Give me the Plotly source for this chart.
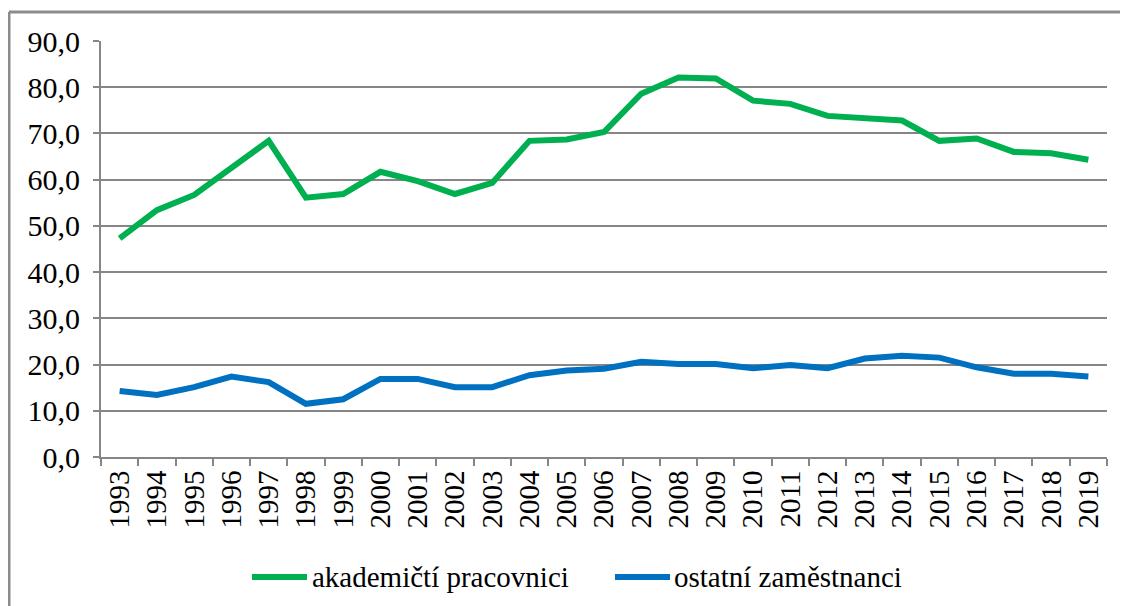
import plotly.graph_objects as go

years = [str(y) for y in range(1993, 2020)]
akademicti = [47.3, 53.4, 56.7, 62.5, 68.4, 56.1, 56.9, 61.7, 59.7, 56.9, 59.3, 68.4,
              68.7, 70.3, 78.6, 82.1, 81.9, 77.1, 76.4, 73.8, 73.3, 72.8, 68.4, 68.9,
              66.0, 65.7, 64.3]
ostatni = [14.3, 13.4, 15.1, 17.4, 16.2, 11.5, 12.5, 16.9, 16.9, 15.1, 15.1, 17.7,
           18.7, 19.1, 20.6, 20.1, 20.1, 19.2, 19.9, 19.2, 21.3, 21.9, 21.5, 19.4,
           18.0, 18.0, 17.4]
series_names = ["akademičtí pracovnici", "ostatní zaměstnanci"]
colors = ["#00B050", "#0070C0"]
y_ticks = [0, 10, 20, 30, 40, 50, 60, 70, 80, 90]

# page body has an 8px margin, so the figure starts at (8, 8)
OFF = 8
W, H = 1120, 598
L, R, T, B = 101 - OFF, 21, 41 - OFF, 149

fig = go.Figure()
for name, vals, col in zip(series_names, [akademicti, ostatni], colors):
    fig.add_trace(go.Scatter(x=years, y=vals, mode="lines", name=name,
                             line=dict(color=col, width=6), showlegend=False))

font = "Liberation Serif"
fig.update_layout(
    width=W, height=H,
    margin=dict(l=L, r=R, t=T, b=B, autoexpand=False),
    paper_bgcolor="white", plot_bgcolor="white",
    separators=",.",
    font=dict(family=font, size=29, color="black"),
    xaxis=dict(type="category", range=[-0.5, len(years) - 0.5],
               tickangle=-90, tickson="boundaries",
               ticks="outside", ticklen=7, tickcolor="#868686", tickwidth=2,
               showline=True, linecolor="#868686", linewidth=2,
               showgrid=False, tickfont=dict(size=29, family=font, color="black")),
    yaxis=dict(range=[0, 90], tickvals=y_ticks, tickformat=".1f",
               ticks="outside", ticklen=6, tickcolor="#868686", tickwidth=2,
               ticklabelstandoff=7,
               showline=True, linecolor="#868686", linewidth=2,
               gridcolor="#868686", gridwidth=2, zeroline=False,
               tickfont=dict(size=30, family=font, color="black")),
)

def px_x(p):
    p -= OFF
    return (p - L) / (W - L - R)

def px_y(p):
    p -= OFF
    return (H - B - p) / (H - T - B)

# outer chart frame (clipped by window on the right and bottom)
fig.add_shape(type="line", xref="paper", yref="paper",
              x0=px_x(9), x1=px_x(1140), y0=px_y(12), y1=px_y(12),
              line=dict(color="#8c8c8c", width=3))
fig.add_shape(type="line", xref="paper", yref="paper",
              x0=px_x(9), x1=px_x(9), y0=px_y(12), y1=px_y(620),
              line=dict(color="#8c8c8c", width=3))

# custom legend
legend_items = [(252, 307, 310), (615, 670, 672)]
ly = 577
for (x0, x1, tx), name, col in zip(legend_items, series_names, colors):
    fig.add_shape(type="line", xref="paper", yref="paper",
                  x0=px_x(x0), x1=px_x(x1), y0=px_y(ly), y1=px_y(ly),
                  line=dict(color=col, width=6))
    fig.add_annotation(xref="paper", yref="paper", x=px_x(tx), y=px_y(ly),
                       text=name, showarrow=False, xanchor="left", yanchor="middle",
                       font=dict(family=font, size=29, color="black"))

fig.write_html("out.html")
